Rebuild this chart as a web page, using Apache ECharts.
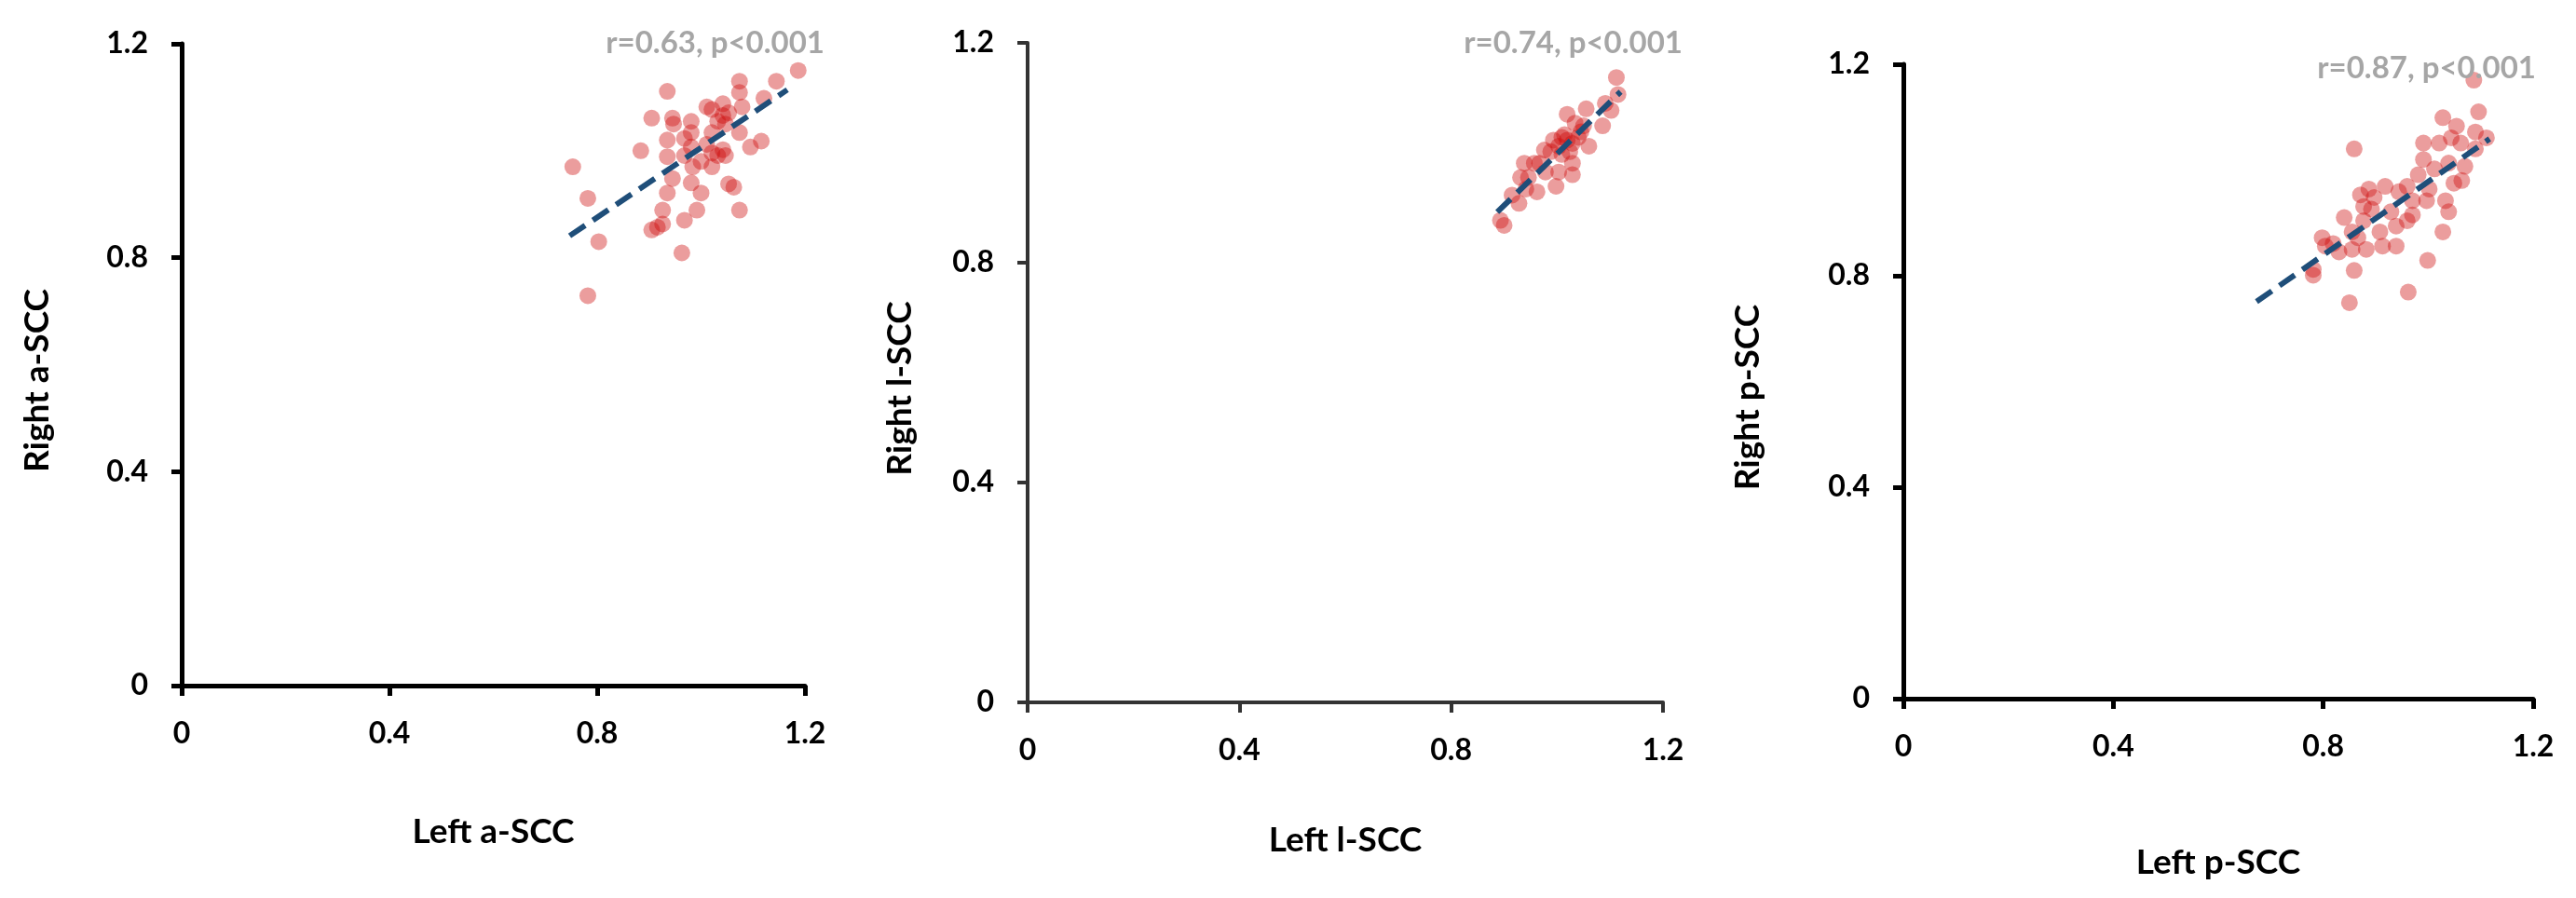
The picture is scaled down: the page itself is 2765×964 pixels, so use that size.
<!DOCTYPE html>
<html>
<head>
<meta charset="utf-8">
<script src="https://cdn.jsdelivr.net/npm/echarts@6/dist/echarts.min.js"></script>
<style>html,body{margin:0;padding:0;background:#fff;}#c{width:2765px;height:964px;}</style>
</head>
<body>
<div id="c"></div>
<script>
// ---- data ----
const tickLabels = ['0', '0.4', '0.8', '1.2'];
const xNames = ['Left a-SCC', 'Left l-SCC', 'Left p-SCC'];
const yNames = ['Right a-SCC', 'Right l-SCC', 'Right p-SCC'];
const stats = ['r=0.63, p<0.001', 'r=0.74, p<0.001', 'r=0.87, p<0.001'];

const aX = [0.753,0.782,0.803,0.782,0.884,0.905,0.935,0.945,0.947,0.935,0.935,0.945,0.935,0.926,0.905,0.916,0.926,0.963,0.968,0.981,0.981,0.968,0.981,0.968,0.984,0.981,0.992,1.000,1.011,1.021,1.021,1.021,1.021,1.032,1.042,1.042,1.047,1.042,1.047,1.053,1.063,1.074,1.074,1.079,1.074,1.074,1.095,1.116,1.121,1.145,1.187,1.053,1.032,1.011,1.000];
const aY = [0.970,0.911,0.830,0.729,1.000,1.061,1.111,1.061,1.050,1.020,0.989,0.948,0.921,0.889,0.852,0.857,0.863,0.809,0.870,1.055,1.034,1.023,1.007,0.991,0.970,0.940,0.889,0.921,1.082,1.077,1.034,0.996,0.970,0.991,1.088,1.066,1.050,1.002,0.991,0.938,0.932,1.130,1.109,1.082,1.034,0.889,1.007,1.018,1.098,1.130,1.150,1.071,1.055,1.012,0.980];
const aTrendX = [0.747, 1.166];
const aTrendY = [0.841, 1.114];

const lX = [0.893,0.900,0.928,0.915,0.931,0.938,0.957,0.962,0.941,0.978,0.976,0.993,0.998,1.003,1.009,1.014,1.019,1.024,1.029,1.029,1.034,1.040,1.050,1.055,1.060,1.045,1.003,0.988,1.086,1.091,1.102,1.112,1.115,0.967,1.019,1.009,1.029,0.946];
const lY = [0.877,0.868,0.908,0.923,0.955,0.981,0.981,0.929,0.934,0.965,1.005,1.023,0.939,0.965,0.997,1.033,1.070,1.002,0.981,0.960,1.054,1.028,1.049,1.080,1.012,1.038,1.012,1.002,1.049,1.090,1.077,1.137,1.106,0.981,1.023,1.028,1.017,0.955];
const lTrendX = [0.887, 1.120];
const lTrendY = [0.892, 1.111];

const pX = [0.781,0.781,0.798,0.804,0.830,0.850,0.859,0.859,0.840,0.855,0.855,0.871,0.877,0.877,0.882,0.887,0.892,0.897,0.908,0.913,0.918,0.939,0.939,0.944,0.960,0.962,0.960,0.970,0.981,0.991,0.991,0.999,0.997,1.002,1.021,1.028,1.028,1.033,1.039,1.039,1.044,1.049,1.054,1.062,1.064,1.070,1.087,1.090,1.096,1.111,1.090,0.970,0.929,0.866,0.819,1.012];
const pY = [0.801,0.812,0.872,0.856,0.845,0.749,0.810,1.040,0.910,0.883,0.850,0.953,0.931,0.904,0.850,0.964,0.926,0.948,0.883,0.856,0.969,0.894,0.856,0.959,0.969,0.769,0.904,0.915,0.991,1.051,1.020,0.829,0.942,0.964,1.051,1.099,0.883,0.942,0.921,1.013,1.061,0.975,1.083,1.051,0.980,1.007,1.170,1.072,1.110,1.061,1.040,0.942,0.921,0.872,0.861,1.002];
const pTrendX = [0.673, 1.117];
const pTrendY = [0.751, 1.059];

// ---- build ----
const zip = (xs, ys) => xs.map((x, i) => [x, ys[i]]);
const panels = [
  {pts: zip(aX, aY), trend: zip(aTrendX, aTrendY), grid: {left: 195, top: 47, width: 669, height: 689}, axisColor: '#000', axisW: 5, xGap: 139, yGap: 136, stat: {x: 885, y: 46}},
  {pts: zip(lX, lY), trend: zip(lTrendX, lTrendY), grid: {left: 1103, top: 46, width: 682, height: 708}, axisColor: '#333', axisW: 4, xGap: 130, yGap: 118, stat: {x: 1806, y: 46}},
  {pts: zip(pX, pY), trend: zip(pTrendX, pTrendY), grid: {left: 2043, top: 69, width: 676, height: 681}, axisColor: '#000', axisW: 5, xGap: 158, yGap: 148, stat: {x: 2722, y: 73}}
];

const FONT = 'Lato, "Open Sans", sans-serif';
const grids = [], xAxes = [], yAxes = [], series = [], graphics = [];
panels.forEach((p, i) => {
  grids.push(Object.assign({containLabel: false}, p.grid));
  const axisCommon = {
    type: 'value', min: 0, max: 1.2, interval: 0.4, gridIndex: i,
    splitLine: {show: false},
    axisLine: {show: true, onZero: false, lineStyle: {color: p.axisColor, width: p.axisW}},
    axisTick: {show: true, inside: false, length: 11, lineStyle: {color: p.axisColor, width: p.axisW}},
    axisLabel: {color: '#000', fontFamily: FONT, fontWeight: 'bold', fontSize: 32, margin: 36,
      formatter: (v, idx) => tickLabels[idx]},
    nameLocation: 'middle'
  };
  xAxes.push(Object.assign({}, axisCommon, {name: xNames[i], nameGap: p.xGap,
    nameTextStyle: {color: '#000', fontFamily: FONT, fontWeight: 'bold', fontSize: 37}}));
  yAxes.push(Object.assign({}, axisCommon, {name: yNames[i], nameGap: p.yGap,
    nameTextStyle: {color: '#000', fontFamily: FONT, fontWeight: 'bold', fontSize: 37, padding: [0, 34, 0, 0]}}));
  series.push({
    type: 'scatter', xAxisIndex: i, yAxisIndex: i, data: p.pts,
    symbol: 'circle', symbolSize: 18,
    itemStyle: {color: 'rgba(205,10,10,0.5)'}, z: 2
  });
  series.push({
    type: 'line', xAxisIndex: i, yAxisIndex: i, data: p.trend,
    symbol: 'none', silent: true,
    lineStyle: {color: '#1f4e79', width: 6, type: [20, 10]}, z: 3
  });
  graphics.push({
    type: 'text', x: p.stat.x, y: p.stat.y, z: 10,
    style: {text: stats[i], fill: '#a6a6a6', font: 'bold 33px ' + FONT,
      align: 'right', textAlign: 'right', verticalAlign: 'middle', textVerticalAlign: 'middle'}
  });
});

const chart = echarts.init(document.getElementById('c'));
chart.setOption({
  animation: false,
  backgroundColor: '#fff',
  grid: grids, xAxis: xAxes, yAxis: yAxes, series: series,
  graphic: graphics
});
</script>
</body>
</html>
